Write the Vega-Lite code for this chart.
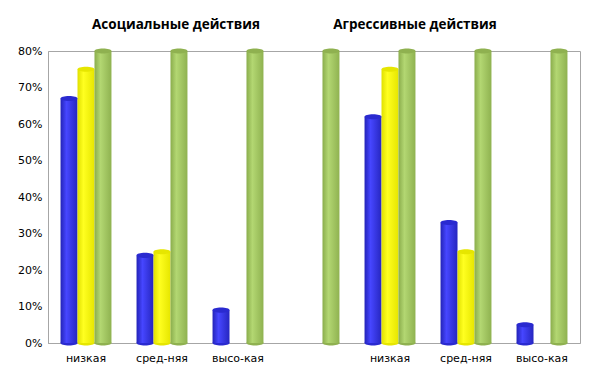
{
  "$schema": "https://vega.github.io/schema/vega-lite/v6.json",
  "width": 532,
  "height": 292,
  "autosize": {"type": "none"},
  "padding": {"left": 48, "top": 51, "right": 22, "bottom": 30},
  "background": "white",
  "config": {
    "view": {"stroke": "#a6a6a6", "strokeWidth": 1},
    "font": "DejaVu Sans",
    "axisY": {
      "title": null,
      "format": ".0%",
      "values": [0, 0.1, 0.2, 0.3, 0.4, 0.5, 0.6, 0.7, 0.8],
      "labelOverlap": false,
      "ticks": false,
      "labelPadding": 6,
      "labelFontSize": 11,
      "labelColor": "#000000",
      "gridColor": "#b3b3b3",
      "domainColor": "#a6a6a6",
      "labelFont": "DejaVu Sans"
    }
  },
  "datasets": {
    "bars": [
      {"category": "низкая", "series": "s1", "value": 0.67},
      {"category": "низкая", "series": "s2", "value": 0.75},
      {"category": "низкая", "series": "s3", "value": 0.80},
      {"category": "сред-няя", "series": "s1", "value": 0.24},
      {"category": "сред-няя", "series": "s2", "value": 0.25},
      {"category": "сред-няя", "series": "s3", "value": 0.80},
      {"category": "высо-кая", "series": "s1", "value": 0.09},
      {"category": "высо-кая", "series": "s3", "value": 0.80},
      {"category": " ", "series": "s3", "value": 0.80},
      {"category": "низкая ", "series": "s1", "value": 0.62},
      {"category": "низкая ", "series": "s2", "value": 0.75},
      {"category": "низкая ", "series": "s3", "value": 0.80},
      {"category": "сред-няя ", "series": "s1", "value": 0.33},
      {"category": "сред-няя ", "series": "s2", "value": 0.25},
      {"category": "сред-няя ", "series": "s3", "value": 0.80},
      {"category": "высо-кая ", "series": "s1", "value": 0.05},
      {"category": "высо-кая ", "series": "s3", "value": 0.80}
    ],
    "titles": [
      {"category": "сред-няя", "title": "Асоциальные действия"},
      {"category": "низкая ", "title": "Агрессивные действия"}
    ]
  },
  "encoding": {
    "x": {
      "field": "category",
      "type": "nominal",
      "sort": ["низкая", "сред-няя", "высо-кая", " ", "низкая ", "сред-няя ", "высо-кая "],
      "scale": {"paddingInner": 0.33, "paddingOuter": 0.165},
      "axis": {
        "title": null,
        "labelAngle": 0,
        "ticks": false,
        "labelPadding": 9,
        "labelFontSize": 11,
        "labelColor": "#000000",
        "domainColor": "#a6a6a6",
        "labelFont": "DejaVu Sans"
      }
    }
  },
  "layer": [
    {
      "data": {"name": "bars"},
      "mark": {"type": "point", "filled": true, "size": 289, "opacity": 1, "strokeWidth": 0,
        "shape": "M -1 0 A 1 0.3 0 1 1 1 0 A 1 0.3 0 1 1 -1 0 Z"},
      "encoding": {
        "y": {"datum": 0, "type": "quantitative", "scale": {"domain": [0, 0.8], "nice": false}},
        "xOffset": {"field": "series", "type": "nominal", "scale": {"domain": ["s1", "s2", "s3"]}},
        "color": {"field": "series", "type": "nominal", "legend": null,
          "scale": {"domain": ["s1", "s2", "s3"], "range": ["#2a2ad0", "#e6e600", "#8fb150"]}}
      }
    },
    {
      "data": {"name": "bars"},
      "transform": [{"filter": "datum.series === 's1'"}],
      "mark": {"type": "bar", "color": {"gradient": "linear", "x1": 0, "x2": 1, "y1": 0, "y2": 0,
        "stops": [{"offset": 0, "color": "#2323b8"}, {"offset": 0.35, "color": "#4646ff"}, {"offset": 1, "color": "#2626c0"}]}},
      "encoding": {
        "y": {"field": "value", "type": "quantitative"},
        "xOffset": {"field": "series", "type": "nominal", "scale": {"domain": ["s1", "s2", "s3"]}}
      }
    },
    {
      "data": {"name": "bars"},
      "transform": [{"filter": "datum.series === 's2'"}],
      "mark": {"type": "bar", "color": {"gradient": "linear", "x1": 0, "x2": 1, "y1": 0, "y2": 0,
        "stops": [{"offset": 0, "color": "#e0e000"}, {"offset": 0.35, "color": "#ffff20"}, {"offset": 1, "color": "#e6e600"}]}},
      "encoding": {
        "y": {"field": "value", "type": "quantitative"},
        "xOffset": {"field": "series", "type": "nominal", "scale": {"domain": ["s1", "s2", "s3"]}}
      }
    },
    {
      "data": {"name": "bars"},
      "transform": [{"filter": "datum.series === 's3'"}],
      "mark": {"type": "bar", "color": {"gradient": "linear", "x1": 0, "x2": 1, "y1": 0, "y2": 0,
        "stops": [{"offset": 0, "color": "#8aad4c"}, {"offset": 0.35, "color": "#b3d772"}, {"offset": 1, "color": "#8fb250"}]}},
      "encoding": {
        "y": {"field": "value", "type": "quantitative"},
        "xOffset": {"field": "series", "type": "nominal", "scale": {"domain": ["s1", "s2", "s3"]}}
      }
    },
    {
      "data": {"name": "bars"},
      "mark": {"type": "point", "filled": true, "size": 289, "opacity": 1, "strokeWidth": 0,
        "shape": "M -1 0 A 1 0.3 0 1 1 1 0 A 1 0.3 0 1 1 -1 0 Z"},
      "encoding": {
        "y": {"field": "value", "type": "quantitative"},
        "xOffset": {"field": "series", "type": "nominal", "scale": {"domain": ["s1", "s2", "s3"]}},
        "color": {"field": "series", "type": "nominal", "legend": null,
          "scale": {"domain": ["s1", "s2", "s3"], "range": ["#3a3af0", "#f5f500", "#9cc05a"]}}
      }
    },
    {
      "data": {"name": "titles"},
      "transform": [{"filter": "datum.category === 'сред-няя'"}],
      "mark": {"type": "text", "font": "Open Sans", "fontWeight": "bold", "fontSize": 13.5, "dy": -26, "dx": 14, "baseline": "middle", "color": "#000000"},
      "encoding": {
        "y": {"datum": 0.8, "type": "quantitative"},
        "text": {"field": "title"}
      }
    },
    {
      "data": {"name": "titles"},
      "transform": [{"filter": "datum.category === 'низкая '"}],
      "mark": {"type": "text", "font": "Open Sans", "fontWeight": "bold", "fontSize": 13.5, "dy": -26, "dx": 25, "baseline": "middle", "color": "#000000"},
      "encoding": {
        "y": {"datum": 0.8, "type": "quantitative"},
        "text": {"field": "title"}
      }
    }
  ]
}
